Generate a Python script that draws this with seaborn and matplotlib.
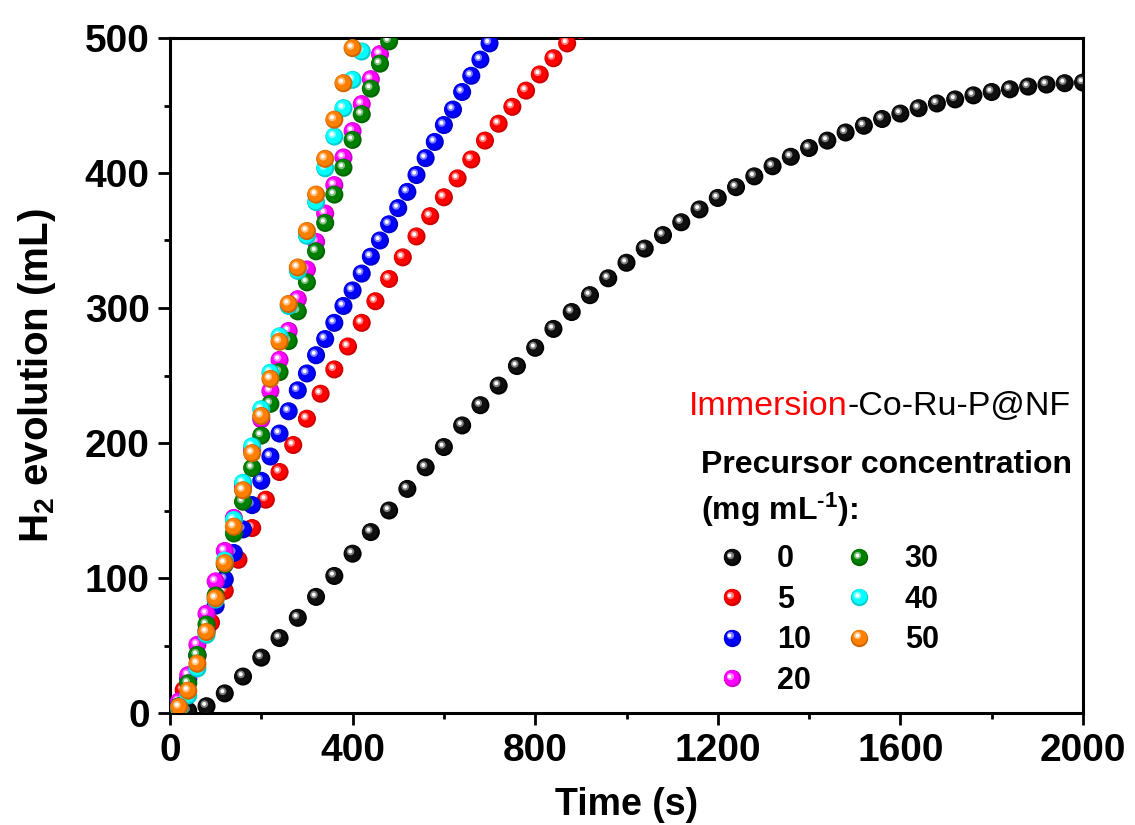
import numpy as np
import pandas as pd
import matplotlib
matplotlib.use("Agg")
import matplotlib.pyplot as plt
import matplotlib.transforms as mtransforms
from matplotlib.colors import to_rgb
from matplotlib.lines import Line2D
from matplotlib.legend_handler import HandlerBase
from matplotlib.ticker import MultipleLocator
import seaborn as sns

# ---- data: H2 evolution (mL) vs time (s) per precursor concentration ----
labels = ["0", "5", "10", "20", "30", "40", "50"]
colors = ["#000000", "#ff0000", "#0000ff", "#ff00ff", "#008000", "#00ffff", "#ff8000"]

t_0 = [40, 80, 120, 160, 200, 240, 280, 320, 360, 400, 440, 480, 520, 560, 600,
       640, 680, 720, 760, 800, 840, 880, 920, 960, 1000, 1040, 1080, 1120, 1160,
       1200, 1240, 1280, 1320, 1360, 1400, 1440, 1480, 1520, 1560, 1600, 1640,
       1680, 1720, 1760, 1800, 1840, 1880, 1920, 1960, 2000]
v_0 = [1.5, 5, 14.5, 27, 41, 55.5, 70.5, 86, 101.5, 118, 134, 150, 166, 182, 197,
       213, 228, 242.5, 257, 270.5, 284.5, 297, 309.5, 322, 333.5, 344, 354, 363.5,
       373, 381.5, 389.5, 397.5, 405, 412, 418.5, 424, 430, 435, 440, 444, 448,
       451.5, 454.5, 457.5, 460, 462, 464, 465.5, 466.5, 467]

t_5 = [30, 60, 90, 120, 150, 180, 210, 240, 270, 300, 330, 360, 390, 420, 450,
       480, 510, 540, 570, 600, 630, 660, 690, 720, 750, 780, 810, 840, 870, 900]
v_5 = [17, 42, 67, 90.5, 113.5, 137, 158, 178.5, 198.5, 218, 236.5, 254.5, 271.5,
       289, 305, 321.5, 337.5, 353, 368, 382, 396, 410, 424, 436.5, 449, 461, 473,
       485, 496, 506]

t_10 = [20, 40, 60, 80, 100, 120, 140, 160, 180, 200, 220, 240, 260, 280, 300,
        320, 340, 360, 380, 400, 420, 440, 460, 480, 500, 520, 540, 560, 580, 600,
        620, 640, 660, 680, 700]
v_10 = [8, 25, 43, 61, 79.5, 99, 118.5, 136, 154, 172, 190, 207, 223.5, 239, 251.5,
        265, 277, 289, 301.5, 313, 325.5, 338, 350, 362, 374, 386, 398.5, 411, 423,
        435.5, 447, 460, 472, 484, 496]

t_20 = [20, 40, 60, 80, 100, 120, 140, 160, 180, 200, 220, 240, 260, 280, 300,
        320, 340, 360, 380, 400, 420, 440, 460]
v_20 = [8.5, 28, 50.5, 73.5, 97.5, 120, 144.5, 168, 195, 217.5, 238.5, 261.5, 283,
        306.5, 328.5, 349, 370, 391, 411.5, 431, 451, 469.5, 488]

t_30 = [20, 40, 60, 80, 100, 120, 140, 160, 180, 200, 220, 240, 260, 280, 300,
        320, 340, 360, 380, 400, 420, 440, 460, 480]
v_30 = [5, 22, 43, 65.5, 87, 110, 133, 156.5, 181.5, 205.5, 229, 252.5, 275.5,
        297.5, 319, 342, 363, 384, 404, 424.5, 443.5, 462.5, 481, 497.5]

t_40 = [20, 40, 60, 80, 100, 120, 140, 160, 180, 200, 220, 240, 260, 280, 300,
        320, 340, 360, 380, 400, 420]
v_40 = [3, 13, 33, 58, 84, 113, 143, 170.5, 197.5, 225, 252, 279, 301.5, 327.5,
        353.5, 378.5, 403.5, 427, 448, 469, 490]

t_50 = [20, 40, 60, 80, 100, 120, 140, 160, 180, 200, 220, 240, 260, 280, 300,
        320, 340, 360, 380, 400]
v_50 = [4.5, 16.5, 36.5, 60, 85, 111, 138, 165, 192.5, 220, 247.5, 275, 303, 330,
        357, 384, 410.5, 439.5, 466.5, 492.5]

times = [t_0, t_5, t_10, t_20, t_30, t_40, t_50]
values = [v_0, v_5, v_10, v_20, v_30, v_40, v_50]

x_ticks = [0, 400, 800, 1200, 1600, 2000]
y_ticks = [0, 100, 200, 300, 400, 500]

# ---- style ----
sns.set_style("ticks")
plt.rcParams["font.family"] = ["Liberation Sans", "DejaVu Sans"]
plt.rcParams["font.weight"] = "bold"
plt.rcParams["text.color"] = "black"
plt.rcParams["axes.labelcolor"] = "black"
plt.rcParams["xtick.color"] = "black"
plt.rcParams["ytick.color"] = "black"
plt.rcParams["mathtext.fontset"] = "custom"
plt.rcParams["mathtext.rm"] = "Liberation Sans:bold"
plt.rcParams["mathtext.it"] = "Liberation Sans:bold"
plt.rcParams["mathtext.bf"] = "Liberation Sans:bold"

DPI = 100
fig = plt.figure(figsize=(11.35, 8.25), dpi=DPI)
ax = fig.add_axes([170 / 1135, 1 - 713 / 825, 913 / 1135, 675 / 825])

MS = 13.0  # sphere diameter in points


def shade_layers(color):
    """Layers of a glossy sphere: (diameter fraction, colour, offset fraction)."""
    c = np.array(to_rgb(color))
    if c.sum() == 0:
        rim, body, glow = (0, 0, 0), (0.06, 0.06, 0.06), (0.5, 0.5, 0.5)
    else:
        rim = tuple(c * 0.8)
        body = tuple(c)
        glow = tuple(c + (1 - c) * 0.5)
    return [(1.0, rim, 0.0), (0.86, body, 0.04), (0.42, glow, 0.12), (0.22, (1, 1, 1), 0.13)]


for i, (lab, col, tx, vy) in enumerate(zip(labels, colors, times, values)):
    df = pd.DataFrame({"t": tx, "v": vy})
    base_z = 3 + i * 0.1
    layers = shade_layers(col)
    frac, c, off = layers[0]
    sns.scatterplot(data=df, x="t", y="v", color=c, s=(MS * frac) ** 2,
                    edgecolor="none", linewidth=0, ax=ax, zorder=base_z, legend=False)
    for k, (frac, c, off) in enumerate(layers[1:], start=1):
        tr = mtransforms.offset_copy(ax.transData, fig=fig, x=-off * MS,
                                     y=off * MS, units="points")
        ax.scatter(df["t"], df["v"], s=(MS * frac) ** 2, color=c, edgecolor="none",
                   linewidth=0, transform=tr, zorder=base_z + 0.01 * k)

# ---- axes ----
ax.set_xlim(0, 2000)
ax.set_ylim(0, 500)
ax.xaxis.set_minor_locator(MultipleLocator(200))
ax.yaxis.set_minor_locator(MultipleLocator(50))
ax.set_xticks(x_ticks)
ax.set_yticks(y_ticks)
ax.set_xticklabels([str(v) for v in x_ticks])
ax.set_yticklabels([str(v) for v in y_ticks])
for s in ax.spines.values():
    s.set_linewidth(2.2)
    s.set_color("black")
ax.tick_params(which="major", direction="out", length=8.5, width=2.0,
               labelsize=28, pad=6, top=False, right=False, colors="black")
ax.tick_params(which="minor", direction="out", length=4.5, width=2.0,
               top=False, right=False, colors="black")
for lbl in ax.get_xticklabels() + ax.get_yticklabels():
    lbl.set_fontweight("bold")

ax.set_xlabel("Time (s)", fontsize=27, fontweight="bold", labelpad=13)
ax.set_ylabel("H$_2$ evolution (mL)", fontsize=29, fontweight="bold", labelpad=19)

# ---- legend block ----
t1 = ax.text(0.5685, 0.4415, "Immersion", color="#ff0000", fontsize=24.5,
             fontweight="normal", transform=ax.transAxes, ha="left", va="baseline")
ax.annotate("-Co-Ru-P@NF", xy=(1, 0), xycoords=t1, ha="left", va="bottom",
            fontsize=24.5, fontweight="normal", color="black")
ax.text(0.5813, 0.3551, "Precursor concentration", fontsize=23, fontweight="bold",
        transform=ax.transAxes, ha="left", va="baseline")
ax.text(0.5813, 0.2859, r"(mg mL$^{\text{-1}}$):", fontsize=23, fontweight="bold",
        transform=ax.transAxes, ha="left", va="baseline")


class GlossyHandler(HandlerBase):
    def __init__(self, color, size):
        super().__init__()
        self.color = color
        self.size = size

    def create_artists(self, legend, orig_handle, xdescent, ydescent, width,
                       height, fontsize, trans):
        cx = width / 2 - xdescent
        cy = height / 2 - ydescent
        arts = []
        for frac, c, off in shade_layers(self.color):
            m = Line2D([cx - off * self.size], [cy + off * self.size], marker="o",
                       markersize=self.size * frac, color=c, markeredgewidth=0,
                       linestyle="none", transform=trans)
            arts.append(m)
        return arts


handles = [Line2D([], [], linestyle="none", marker="o", color=c) for c in colors]
hmap = {h: GlossyHandler(c, 12.5) for h, c in zip(handles, colors)}
leg = ax.legend(handles, labels, handler_map=hmap, ncol=2, frameon=False,
                loc="upper left", bbox_to_anchor=(0.5985, 0.2497),
                borderpad=0, borderaxespad=0, handlelength=1.0, handleheight=0.7,
                handletextpad=0.99, columnspacing=1.07, labelspacing=0.34,
                prop={"family": ["Liberation Sans"], "weight": "bold", "size": 22})

fig.savefig("out.png", dpi=DPI)
